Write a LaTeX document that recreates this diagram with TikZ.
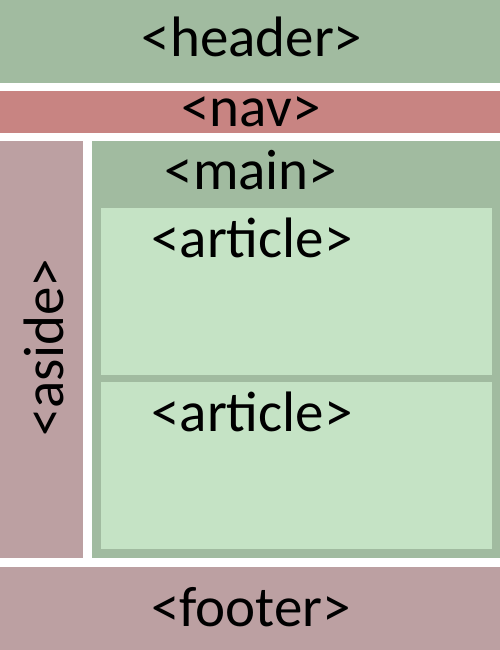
\documentclass[tikz,border=0pt]{standalone}
\usepackage{fontspec}
\setmainfont{Carlito}
\definecolor{hdrgreen}{HTML}{A1BBA0}
\definecolor{navred}{HTML}{C88482}
\definecolor{asidepink}{HTML}{BCA0A2}
\definecolor{artgreen}{HTML}{C5E3C5}
\begin{document}
\begin{tikzpicture}[x=1pt,y=-1pt,
  lbl/.style={inner sep=0pt,anchor=base,font=\fontsize{57}{62}\selectfont,text=black}]
\useasboundingbox (0,0) rectangle (500,650);
\fill[white] (0,0) rectangle (500,650);
\fill[hdrgreen] (0,0) rectangle (500,83);
\fill[navred] (0,91) rectangle (500,133);
\fill[asidepink] (0,141) rectangle (83,558);
\fill[hdrgreen] (92,141) rectangle (500,558);
\fill[artgreen] (101,208) rectangle (492,375);
\fill[artgreen] (101,382) rectangle (492,549);
\fill[asidepink] (0,567) rectangle (500,650);
\node[lbl] (header) at (252,57) {<header>};
\node[lbl] (nav) at (251,126) {<nav>};
\node[lbl] (main) at (251,189) {<main>};
\node[lbl] (art1) at (252,257) {<article>};
\node[lbl] (art2) at (252,431) {<article>};
\node[lbl,rotate=90] (aside) at (63,348) {<aside>};
\node[lbl] (footer) at (251,626) {<footer>};
\end{tikzpicture}
\end{document}
